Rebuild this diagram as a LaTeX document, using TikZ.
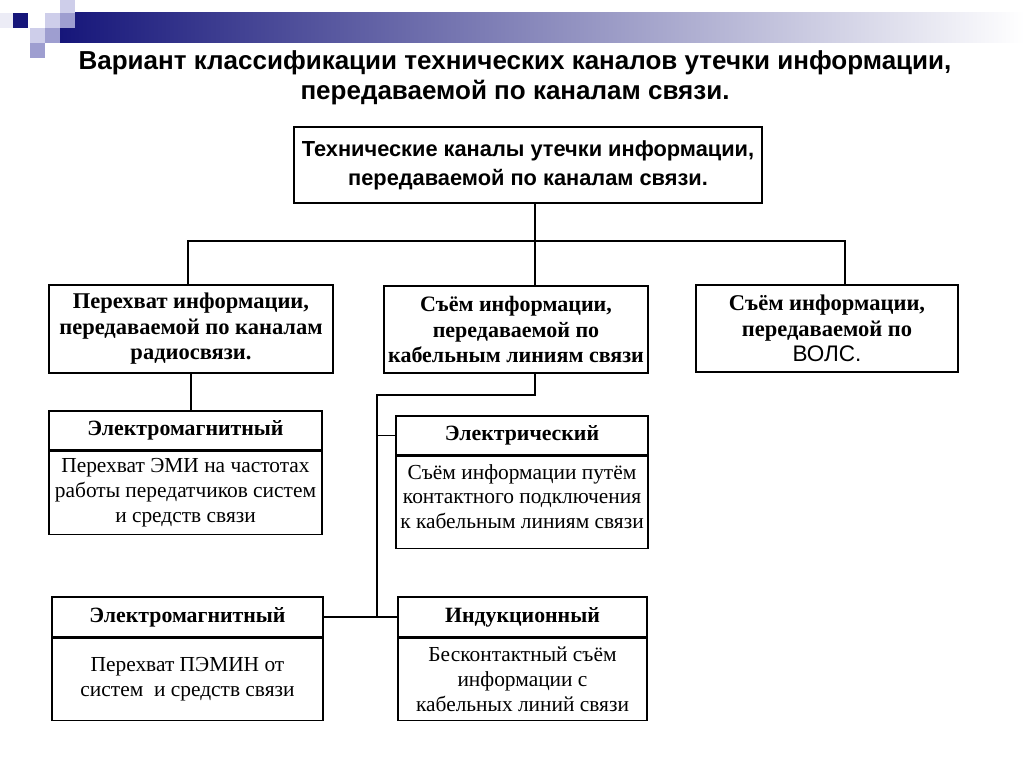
\documentclass[tikz,border=0pt]{standalone}
\usepackage{fontspec}
\setmainfont{Liberation Serif}
\newfontfamily\headsf{Liberation Sans}
\usetikzlibrary{positioning}
\definecolor{slidenavy}{RGB}{22,22,122}
\definecolor{tilelight}{RGB}{206,206,234}
\definecolor{tilemid}{RGB}{158,158,208}
\definecolor{tilefaint}{RGB}{236,236,246}

\begin{document}
\begin{tikzpicture}[x=1pt,y=-1pt,
  chan/.style={draw,line width=2.6pt,inner sep=0pt,align=center,font=\fontsize{22.5}{25.5}\selectfont\bfseries},
  kind/.style={draw,line width=1.3pt,inner sep=0pt,align=center,font=\fontsize{21.8}{24}\selectfont\bfseries},
  how/.style={draw,line width=1.3pt,inner sep=0pt,align=center,font=\fontsize{21.4}{24.8}\selectfont},
  bus/.style={line width=2.6pt},
  wire/.style={line width=1.2pt}]
\fill[white] (0,0) rectangle (1024,767);
\useasboundingbox (0,0) rectangle (1024,767);

\shade[left color=slidenavy,right color=white] (60,13) rectangle (1024,43);
\fill[tilefaint] (0,13) rectangle (13,28);
\fill[slidenavy] (13,13) rectangle (28,28);
\fill[tilelight] (60,0) rectangle (75,13);
\fill[tilelight] (45,13) rectangle (60,28);
\fill[tilemid] (60,13) rectangle (75,28);
\fill[tilelight] (30,28) rectangle (45,43);
\fill[tilemid] (45,28) rectangle (60,43);
\fill[tilemid] (30,43) rectangle (45,58);

\node (title) at (515,78) [align=center,font=\headsf\fontsize{26}{30}\selectfont\bfseries]
  {Вариант классификации технических каналов утечки информации,\\ передаваемой по каналам связи.};

\node (top) at (528,165) [chan,minimum width=468pt,minimum height=76pt,font=\headsf\fontsize{21.8}{29}\selectfont\bfseries]
  {Технические каналы утечки информации,\\ передаваемой по каналам связи.};
\node (radio) at (191,329) [chan,minimum width=284pt,minimum height=88pt]
  {Перехват информации,\\ передаваемой по каналам\\ радиосвязи.};
\node (cable) at (516,329.5) [chan,minimum width=264pt,minimum height=87pt,font=\fontsize{22}{25.5}\selectfont\bfseries]
  {Съём информации,\\ передаваемой по\\ кабельным линиям связи};
\node (fibre) at (827,328.5) [chan,minimum width=262pt,minimum height=87pt]
  {Съём информации,\\ передаваемой по\\ {\headsf\mdseries ВОЛС.}};

\node (emA) at (185.5,430.5) [kind,minimum width=273pt,minimum height=39pt] {Электромагнитный};
\node (emAtxt) [how,below=0pt of emA,minimum width=273pt,minimum height=83pt]
  {Перехват ЭМИ на частотах\\ работы передатчиков систем\\ и средств связи};
\node (elA) at (522,435.5) [kind,minimum width=252pt,minimum height=39pt] {Электрический};
\node (elAtxt) [how,below=0pt of elA,minimum width=252pt,minimum height=92pt]
  {Съём информации путём\\ контактного подключения\\ к кабельным линиям связи\\[-13pt]};
\node (emB) at (187.5,617) [kind,minimum width=271pt,minimum height=40pt] {Электромагнитный};
\node (emBtxt) [how,below=0pt of emB,minimum width=271pt,minimum height=82pt]
  {Перехват ПЭМИН от\\ систем~ и средств связи};
\node (indA) at (522.5,617) [kind,minimum width=249pt,minimum height=40pt] {Индукционный};
\node (indAtxt) [how,below=0pt of indA,minimum width=249pt,minimum height=82pt]
  {Бесконтактный съём\\ информации с\\ кабельных линий связи};

\coordinate (busL) at (188,241);
\coordinate (trunk) at (535,241);
\coordinate (busR) at (845,241);
\coordinate (jog) at (377,395);

\draw[bus] (top.south -| trunk) -- (cable.north -| trunk);
\draw[bus] (busL |- radio.north) -- (busL) -- (busR) -- (busR |- fibre.north);
\draw[wire] (radio.south) -- (radio.south |- emA.north);
\draw[wire] (cable.south -| trunk) |- (jog) -- (jog |- emB.east);
\draw[wire] (jog |- elA.west) -- (elA.west);
\draw[wire] (emB.east) -- (indA.west);
\end{tikzpicture}
\end{document}
